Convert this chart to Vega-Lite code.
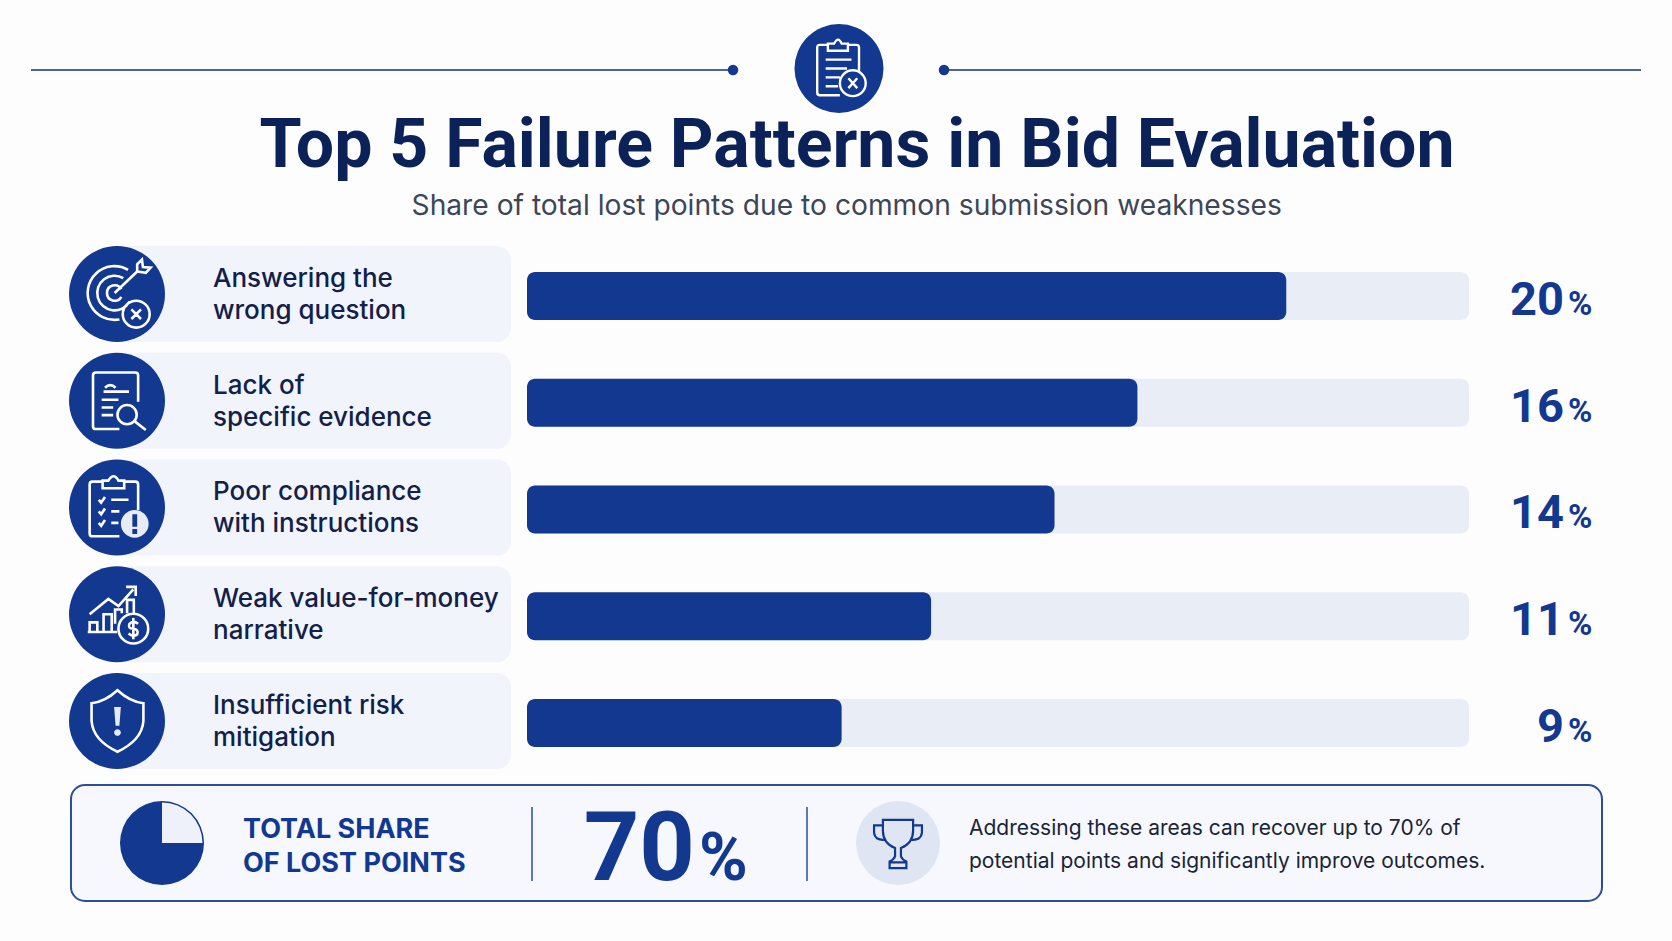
{
"$schema":"https://vega.github.io/schema/vega-lite/v6.json",
"width":1672,"height":706,
"padding":{"top":235,"left":0,"right":0,"bottom":0},
"autosize":{"type":"none"},
"background":"#fdfdfe",
"config":{"view":{"stroke":null},"axis":{"disable":true},"font":"Inter"},
"resolve":{"scale":{"shape":"independent"}},
"datasets":{
"rows":[
{"category":"Answering the\nwrong question","rank":1,"share":20,"barLength":80.6},
{"category":"Lack of\nspecific evidence","rank":2,"share":16,"barLength":64.8},
{"category":"Poor compliance\nwith instructions","rank":3,"share":14,"barLength":56},
{"category":"Weak value-for-money\nnarrative","rank":4,"share":11,"barLength":42.9},
{"category":"Insufficient risk\nmitigation","rank":5,"share":9,"barLength":33.4}],
"pie":[{"part":"rest","seq":1,"value":25},{"part":"lost","seq":2,"value":75}],
"header":[{"note":"header"}],
"total":[{"total":"70","lead":"TOTAL SHARE\nOF LOST POINTS","note":"Addressing these areas can recover up to 70% of\npotential points and significantly improve outcomes.","title":"Top 5 Failure Patterns in Bid Evaluation","subtitle":"Share of total lost points due to common submission weaknesses"}]
},
"layer":[
{"data":{"name":"header"},"mark":{"type":"rule","stroke":"#4a669f","strokeWidth":2},
 "encoding":{"x":{"datum":-52.654,"type":"quantitative","scale":{"domain":[-55.945,121.55],"range":[0,1672],"nice":false,"zero":false}},"x2":{"datum":21.868},"y":{"datum":-1.1171,"type":"quantitative","scale":{"domain":[0.4286,7.0422],"range":[0,706],"nice":false,"zero":false}}}},
{"data":{"name":"header"},"mark":{"type":"rule","stroke":"#4a669f","strokeWidth":2},
 "encoding":{"x":{"datum":44.268,"type":"quantitative"},"x2":{"datum":118.259},"y":{"datum":-1.1171,"type":"quantitative"}}},
{"data":{"name":"header"},"mark":{"type":"point","filled":true,"fill":"#12388f","stroke":null,"size":110,"opacity":1},
 "encoding":{"x":{"datum":21.868,"type":"quantitative"},"y":{"datum":-1.1171,"type":"quantitative"}}},
{"data":{"name":"header"},"mark":{"type":"point","filled":true,"fill":"#12388f","stroke":null,"size":110,"opacity":1},
 "encoding":{"x":{"datum":44.268,"type":"quantitative"},"y":{"datum":-1.1171,"type":"quantitative"}}},
{"data":{"name":"header"},"mark":{"type":"point","filled":true,"fill":"#12388f","stroke":null,"size":7921,"opacity":1},
 "encoding":{"x":{"datum":33.121,"type":"quantitative"},"y":{"datum":-1.1311,"type":"quantitative"}}},
{"data":{"name":"header"},"mark":{"type":"point","filled":false,"stroke":"#ffffff","strokeWidth":2.4,"size":7921,"opacity":1,"shape":"M0.45 0.05V-0.47Q0.45 -0.53 0.39 -0.53H0.2M-0.25 -0.53H-0.43Q-0.49 -0.53 -0.49 -0.47V0.54Q-0.49 0.6 -0.43 0.6H0.02M-0.25 -0.4H0.2V-0.56H0.06Q-0.02 -0.74 -0.11 -0.56H-0.25ZM-0.3 -0.2H0.28M-0.3 0H0.18M-0.3 0.2H0.02M-0.3 0.4H-0.02M0.6 0.33A0.29 0.29 0 1 0 0.02 0.33A0.29 0.29 0 1 0 0.6 0.33M0.21 0.22L0.41 0.44M0.41 0.22L0.21 0.44"},
 "encoding":{"x":{"datum":33.121,"type":"quantitative"},"y":{"datum":-1.1311,"type":"quantitative"}}},
{"data":{"name":"total"},"mark":{"type":"text","fontSize":68,"fontWeight":700,"fill":"#0b2258","align":"center","baseline":"alphabetic","font":"Roboto"},
 "encoding":{"x":{"datum":35.032,"type":"quantitative"},"y":{"datum":-0.2084,"type":"quantitative"},"text":{"field":"title"}}},
{"data":{"name":"total"},"mark":{"type":"text","fontSize":28.2,"fontWeight":400,"fill":"#3d4658","align":"center","baseline":"alphabetic","font":"Inter"},
 "encoding":{"x":{"datum":33.94,"type":"quantitative"},"y":{"datum":0.2412,"type":"quantitative"},"text":{"field":"subtitle"}}},

{"data":{"name":"rows"},"mark":{"type":"rect","height":96,"cornerRadius":14,"fill":"#f1f4fb","yOffset":-2},
 "encoding":{"x":{"datum":-43.524,"type":"quantitative"},"x2":{"datum":-1.699},"y":{"field":"rank","type":"quantitative"}}},
{"data":{"name":"rows"},"mark":{"type":"point","filled":true,"fill":"#12388f","stroke":null,"size":9216,"opacity":1,"yOffset":-2},
 "encoding":{"x":{"datum":-43.524,"type":"quantitative"},"y":{"field":"rank","type":"quantitative"}}},
{"data":{"name":"rows"},"transform":[{"filter":{"field":"rank","oneOf":[3,5]}}],"mark":{"type":"point","filled":true,"stroke":null,"fill":"#e6ebf6","size":9216,"opacity":1,"yOffset":-2},
 "encoding":{"x":{"datum":-43.524,"type":"quantitative"},"y":{"field":"rank","type":"quantitative"},
 "shape":{"field":"rank","type":"nominal","legend":null,"scale":{"domain":[3,5],"range":["M0.66 0.34A0.29 0.29 0 1 0 0.08 0.34A0.29 0.29 0 1 0 0.66 0.34ZM0.32 0.14H0.42V0.4H0.32ZM0.32 0.45H0.42V0.55H0.32Z","M-0.06 -0.29H0.08L0.05 0.1H-0.03ZM0.08 0.24A0.07 0.07 0 1 0 -0.06 0.24A0.07 0.07 0 1 0 0.08 0.24Z"]}}}},
{"data":{"name":"rows"},"mark":{"type":"point","filled":false,"stroke":"#ffffff","strokeWidth":2.6,"size":9216,"opacity":1,"yOffset":-2},
 "encoding":{"x":{"datum":-43.524,"type":"quantitative"},"y":{"field":"rank","type":"quantitative"},
 "shape":{"field":"rank","type":"nominal","legend":null,"scale":{"domain":[1,2,3,4,5],"range":[
 "M0.23 -0.505A0.56 0.56 0 1 0 0.05 0.53M0.13 -0.33A0.36 0.36 0 1 0 0.26 0.16M0.09 -0.1A0.16 0.16 0 1 0 0.09 0.06M-0.05 -0.02L0.42 -0.47M0.42 -0.47L0.42 -0.62L0.52 -0.72L0.54 -0.56L0.7 -0.55L0.6 -0.44ZM0.68 0.42A0.28 0.28 0 1 0 0.12 0.42A0.28 0.28 0 1 0 0.68 0.42M0.3 0.32L0.5 0.52M0.5 0.32L0.3 0.52",
 "M0.44 0.02V-0.53Q0.44 -0.59 0.38 -0.59H-0.44Q-0.5 -0.59 -0.5 -0.53V0.53Q-0.5 0.59 -0.44 0.59H0.05M-0.25 -0.27Q-0.14 -0.38 -0.03 -0.27M-0.28 -0.19H0.25M-0.32 -0.02H0.03M-0.32 0.14H-0.08M-0.32 0.3H-0.08M0.41 0.29A0.2 0.2 0 1 0 0.01 0.29A0.2 0.2 0 1 0 0.41 0.29M0.37 0.43L0.6 0.61",
 "M0.44 0.05V-0.48Q0.44 -0.54 0.38 -0.54H0.15M-0.3 -0.54H-0.51Q-0.57 -0.54 -0.57 -0.48V0.54Q-0.57 0.6 -0.51 0.6H0.05M-0.3 -0.4H0.15V-0.56H0.03Q-0.07 -0.74 -0.18 -0.56H-0.3ZM-0.38 -0.16L-0.33 -0.1L-0.25 -0.22M-0.12 -0.16H0.24M-0.38 0.08L-0.33 0.14L-0.25 0.02M-0.12 0.08H0.05M-0.38 0.32L-0.33 0.38L-0.25 0.26M-0.12 0.32H0.03",
 "M-0.57 0L-0.18 -0.32L0.03 -0.17L0.34 -0.52M0.19 -0.57H0.39V-0.38M-0.61 0.37H0M-0.57 0.37V0.17H-0.41V0.37M-0.28 0.37V0H-0.11V0.37M-0.04 0.2V-0.1H0.1V-0.02M0.21 -0.02V-0.3H0.35V-0.02M0.65 0.3A0.31 0.31 0 1 0 0.03 0.3A0.31 0.31 0 1 0 0.65 0.3M0.44 0.2Q0.34 0.12 0.26 0.2Q0.22 0.3 0.34 0.3Q0.46 0.32 0.42 0.42Q0.34 0.48 0.24 0.4M0.34 0.08V0.52",
 "M0.01 -0.64Q-0.25 -0.4 -0.53 -0.37V0Q-0.5 0.4 0.01 0.64Q0.52 0.4 0.55 0V-0.37Q0.27 -0.4 0.01 -0.64Z"]}}}},
{"data":{"name":"rows"},"mark":{"type":"text","fontSize":26,"fontWeight":500,"fill":"#12204a","align":"left","baseline":"alphabetic","lineBreak":"\n","lineHeight":32,"dy":-9,"font":"Inter"},
 "encoding":{"x":{"datum":-33.335,"type":"quantitative"},"y":{"field":"rank","type":"quantitative"},"text":{"field":"category"}}},

{"data":{"name":"rows"},"mark":{"type":"rect","height":48,"cornerRadius":8,"fill":"#e9edf6"},
 "encoding":{"x":{"datum":0,"type":"quantitative"},"x2":{"datum":100},"y":{"field":"rank","type":"quantitative"}}},
{"data":{"name":"rows"},"mark":{"type":"rect","height":48,"cornerRadius":8,"fill":"#12388f"},
 "encoding":{"x":{"field":"barLength","type":"quantitative"},"x2":{"datum":0},"y":{"field":"rank","type":"quantitative"}}},
{"data":{"name":"rows"},"mark":{"type":"text","fontSize":47,"fontWeight":700,"fill":"#12388f","align":"right","baseline":"alphabetic","dy":19,"font":"Roboto"},
 "encoding":{"x":{"datum":110.085,"type":"quantitative"},"y":{"field":"rank","type":"quantitative"},"text":{"field":"share","type":"nominal"}}},
{"data":{"name":"rows"},"mark":{"type":"text","fontSize":33,"fontWeight":700,"fill":"#12388f","align":"left","baseline":"alphabetic","dy":19,"font":"Roboto"},
 "encoding":{"x":{"datum":110.5,"type":"quantitative"},"y":{"field":"rank","type":"quantitative"},"text":{"value":"%"}}},

{"data":{"name":"header"},"mark":{"type":"rect","fill":"#f6f8fd","stroke":"#2b4e9a","strokeWidth":2,"cornerRadius":14},
 "encoding":{"x":{"datum":-48.41,"type":"quantitative"},"x2":{"datum":114.12},"y":{"datum":5.5808,"type":"quantitative"},"y2":{"datum":6.6674}}},
{"data":{"name":"pie"},"transform":[{"stack":"value","as":["start","end"],"groupby":[],"sort":[{"field":"seq","order":"ascending"}]}],"mark":{"type":"arc","outerRadius":42},
 "encoding":{"x":{"datum":-38.747,"type":"quantitative","stack":false},"y":{"datum":6.1241,"type":"quantitative","stack":false},
 "theta":{"field":"start","type":"quantitative","scale":{"domain":[0,100]}},"theta2":{"field":"end"},
 "color":{"field":"part","type":"nominal","legend":null,"scale":{"domain":["rest","lost"],"range":["#eef1fa","#12388f"]}}}},
{"data":{"name":"pie"},"transform":[{"stack":"value","as":["start","end"],"groupby":[],"sort":[{"field":"seq","order":"ascending"}]},{"filter":{"field":"part","equal":"rest"}}],"mark":{"type":"arc","outerRadius":42,"innerRadius":40.5,"fill":"#12388f"},
 "encoding":{"x":{"datum":-38.747,"type":"quantitative","stack":false},"y":{"datum":6.1241,"type":"quantitative","stack":false},
 "theta":{"field":"start","type":"quantitative"},"theta2":{"field":"end"}}},
{"data":{"name":"total"},"mark":{"type":"text","fontSize":27,"fontWeight":700,"fill":"#12388f","align":"left","baseline":"alphabetic","lineBreak":"\n","lineHeight":34,"dy":1,"font":"Inter"},
 "encoding":{"x":{"datum":-30.15,"type":"quantitative"},"y":{"datum":6.0679,"type":"quantitative"},"text":{"field":"lead"}}},
{"data":{"name":"header"},"mark":{"type":"rule","stroke":"#2b4e9a","strokeWidth":1.5},
 "encoding":{"x":{"datum":0.531,"type":"quantitative"},"y":{"datum":5.7869,"type":"quantitative"},"y2":{"datum":6.4801}}},
{"data":{"name":"header"},"mark":{"type":"rule","stroke":"#2b4e9a","strokeWidth":1.5},
 "encoding":{"x":{"datum":29.724,"type":"quantitative"},"y":{"datum":5.7869,"type":"quantitative"},"y2":{"datum":6.4801}}},
{"data":{"name":"total"},"mark":{"type":"text","fontSize":97,"fontWeight":700,"fill":"#12388f","align":"right","baseline":"alphabetic","font":"Roboto"},
 "encoding":{"x":{"datum":17.834,"type":"quantitative"},"y":{"datum":6.4705,"type":"quantitative"},"text":{"field":"total"}}},
{"data":{"name":"total"},"mark":{"type":"text","fontSize":66,"fontWeight":700,"fill":"#12388f","align":"left","baseline":"alphabetic","font":"Roboto"},
 "encoding":{"x":{"datum":18.259,"type":"quantitative"},"y":{"datum":6.4705,"type":"quantitative"},"text":{"value":"%"}}},
{"data":{"name":"header"},"mark":{"type":"point","filled":true,"fill":"#dfe5f3","stroke":null,"size":7056,"opacity":1},
 "encoding":{"x":{"datum":39.384,"type":"quantitative"},"y":{"datum":6.1241,"type":"quantitative"}}},
{"data":{"name":"header"},"mark":{"type":"point","filled":false,"stroke":"#12388f","strokeWidth":2.2,"size":7056,"opacity":1,"shape":"M-0.36 -0.55H0.36V-0.3Q0.36 0 0.07 0.12V0.32Q0.1 0.4 0.2 0.44V0.6H-0.2V0.44Q-0.1 0.4 -0.07 0.32V0.12Q-0.36 0 -0.36 -0.3ZM-0.36 -0.42H-0.57V-0.25Q-0.55 -0.05 -0.3 -0.08M0.36 -0.42H0.57V-0.25Q0.55 -0.05 0.3 -0.08M-0.2 0.46H0.2"},
 "encoding":{"x":{"datum":39.384,"type":"quantitative"},"y":{"datum":6.1241,"type":"quantitative"}}},
{"data":{"name":"total"},"mark":{"type":"text","fontSize":21,"fontWeight":400,"fill":"#1a2438","align":"left","baseline":"alphabetic","lineBreak":"\n","lineHeight":33,"font":"Inter"},
 "encoding":{"x":{"datum":46.921,"type":"quantitative"},"y":{"datum":6.0508,"type":"quantitative"},"text":{"field":"note"}}}
]
}
